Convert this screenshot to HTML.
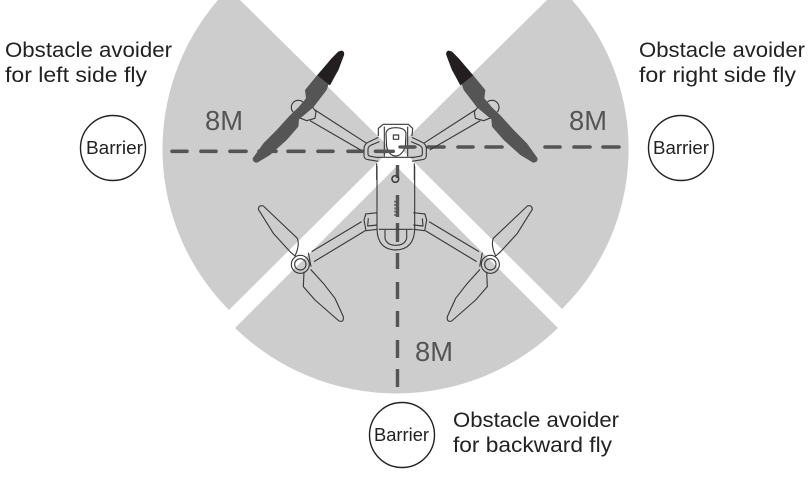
<!DOCTYPE html>
<html>
<head>
<meta charset="utf-8">
<style>
html,body{margin:0;padding:0;background:#fff;width:812px;height:477px;overflow:hidden}
svg{display:block}
text{font-family:"Liberation Sans",sans-serif}
.t{font-size:21.5px;fill:#222}
.b{font-size:18.5px;fill:#222}
.m{font-size:28px;fill:#555}
.d{stroke:#555;stroke-width:3.6;stroke-linecap:round;fill:none}
.o{fill:none;stroke:#3a3a3a;stroke-width:3.4;stroke-linejoin:round}
</style>
</head>
<body>
<svg width="812" height="477" viewBox="0 0 812 477" xmlns="http://www.w3.org/2000/svg">
<rect width="812" height="477" fill="#fff"/>
<!-- sectors -->
<path d="M240,0 L391,149 L229,310 A228 228 0 0 1 218,0 Z" fill="#cdcdcd"/>
<path d="M547,0 L398.5,146.5 L562,309 A225 225 0 0 0 572,0 Z" fill="#cdcdcd"/>
<path d="M396.5,166.5 L558,328 A232 232 0 0 1 235,328 Z" fill="#cdcdcd"/>

<!-- horizontal dashes -->
<g class="d">
<path d="M172,151.3H187M201,151.3H216M230,151.3H246M259,151.3H276M288,151.3H304M318,151.3H333M348,151.3H362M376,151.3H392"/>
<path d="M401,147H414M428,147H444M458,147H473M486,147H502M545,147H560M574,147H590M603,147H619"/>
</g>
<!-- vertical dashes -->
<g stroke="#555" stroke-width="3.4" fill="none">
<path d="M397.5,165V178M397.5,195V217M397.5,223V242M397.5,253V269M397.5,282V299M397.5,311V327M397.5,340V358M397.5,369V387"/>
</g>

<!-- drone upper, in zoom1 coordinates -->
<g transform="translate(230,30) scale(0.33333)">
  <g id="fp">
    <path class="o" d="M255,240L410,340M240,272L392,360"/>
    <path class="o" d="M205,262L245,228L258,245L255,265L230,272Z"/>
    <circle cx="205" cy="232" r="21" fill="none" stroke="#3a3a3a" stroke-width="3.4"/>
    <path d="M335,62Q344,64 342,75L325,120L295,165L290,180L250,232L207,268L205,290L170,330L120,375L82,398Q68,398 68,385L100,340L140,300L178,258L205,232L228,205L225,180L262,135L305,85L325,65Z" fill="#555"/>
    <path d="M335,62Q344,64 342,75L325,120L300,166L262,136L305,85L325,65Z" fill="#231f20"/>
    <path class="o" d="M445,322L412,338Q403,344 402,355L402,378Q403,388 415,389L445,394M448,335L422,346Q414,350 414,358V372Q414,378 422,379L445,383"/>
  </g>
  <use href="#fp" transform="translate(991,0) scale(-1,1)"/>
  <path class="o" d="M445,318L445,295L460,283L535,283L548,295L546,318"/>
  <path class="o" d="M440,400L440,450M553,400L553,450M463,290L463,380M533,290L533,380M442,382H553"/>
  <path class="o" d="M468,310Q470,293 497,293Q525,293 528,310L526,350Q515,378 497,378Q478,378 470,350Z" style="fill:#fff"/>
  <rect x="490" y="315" width="16" height="13" class="o" style="fill:#fff"/>
  <path d="M436,364H490M510,351H555" stroke="#555" stroke-width="10" stroke-linecap="round" fill="none"/>
</g>

<!-- drone lower, in zoom2 coordinates -->
<g transform="translate(240,170) scale(0.33333)">
  <g id="rp">
    <path class="o" d="M215,245L365,155M222,275L376,182"/>
    <path class="o" d="M205,248L213,290M378,130L372,150L378,182L412,178M412,128L378,132M385,145L383,168L412,165"/>
    <circle cx="181" cy="283" r="27" fill="none" stroke="#3a3a3a" stroke-width="3.4"/>
    <circle cx="181" cy="283" r="17" fill="none" stroke="#3a3a3a" stroke-width="3.4"/>
    <path class="o" d="M55,118Q56,104 70,108L130,165L172,205Q180,225 165,258L150,245L100,190Z"/>
    <path class="o" d="M192,305L190,350L225,390L297,453Q312,458 310,440L285,385L250,340L212,298"/>
  </g>
  <use href="#rp" transform="translate(932,0) scale(-1,1)"/>
  <path class="o" d="M411,-12L411,178Q413,238 467,240Q522,238 524,178L524,-12"/>
  <path class="o" d="M416,178H518M435,180V205Q440,225 467,226Q495,225 500,205V180"/>
  <circle cx="466" cy="27" r="10" fill="none" stroke="#444" stroke-width="5"/>
  <path d="M465,92V140" stroke="#555" stroke-width="4" stroke-dasharray="6,4" fill="none"/>
</g>

<!-- 8M labels -->
<text class="m" x="205" y="130" textLength="38" lengthAdjust="spacingAndGlyphs">8M</text>
<text class="m" x="569" y="130" textLength="38" lengthAdjust="spacingAndGlyphs">8M</text>
<text class="m" x="415" y="361" textLength="38" lengthAdjust="spacingAndGlyphs">8M</text>

<!-- barriers -->
<g fill="#fff" stroke="#222" stroke-width="1.4">
<circle cx="113" cy="148" r="32.5"/>
<circle cx="681" cy="148" r="32.5"/>
<circle cx="402" cy="435" r="32.5"/>
</g>
<text class="b" x="86" y="154" textLength="57" lengthAdjust="spacingAndGlyphs">Barrier</text>
<text class="b" x="653" y="154" textLength="56" lengthAdjust="spacingAndGlyphs">Barrier</text>
<text class="b" x="374" y="441" textLength="55" lengthAdjust="spacingAndGlyphs">Barrier</text>

<!-- captions -->
<text class="t" x="5" y="57" textLength="167" lengthAdjust="spacingAndGlyphs">Obstacle avoider</text>
<text class="t" x="5" y="82" textLength="142" lengthAdjust="spacingAndGlyphs">for left side fly</text>
<text class="t" x="639" y="57" textLength="166" lengthAdjust="spacingAndGlyphs">Obstacle avoider</text>
<text class="t" x="639" y="82" textLength="157" lengthAdjust="spacingAndGlyphs">for right side fly</text>
<text class="t" x="453" y="427" textLength="166" lengthAdjust="spacingAndGlyphs">Obstacle avoider</text>
<text class="t" x="453" y="452" textLength="159" lengthAdjust="spacingAndGlyphs">for backward fly</text>
</svg>
</body>
</html>
